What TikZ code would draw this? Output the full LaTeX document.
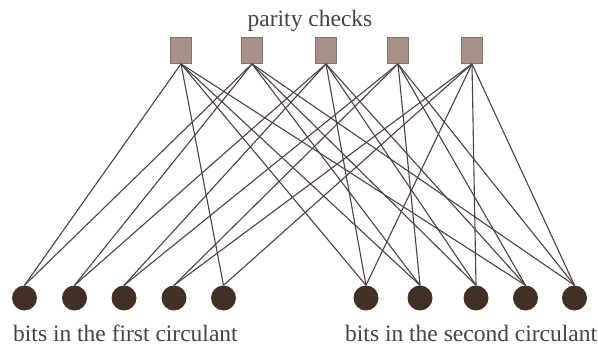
\documentclass[tikz,border=0pt]{standalone}
\usepackage{fontspec}
\setmainfont{Liberation Serif}
\definecolor{checkfill}{RGB}{168,144,136}
\definecolor{checkdraw}{RGB}{138,114,104}
\definecolor{bitfill}{RGB}{64,48,38}
\definecolor{edgecol}{RGB}{78,66,58}
\definecolor{labelcol}{RGB}{74,66,66}
\tikzset{
  check/.style={rectangle,fill=checkfill,draw=checkdraw,line width=0.8pt,
    minimum width=21pt,minimum height=26pt,inner sep=0pt},
  bit/.style={circle,fill=bitfill,minimum size=25pt,inner sep=0pt},
  edge/.style={draw=edgecol,line width=1.1pt},
  lbl/.style={text=labelcol,font=\fontsize{23.5}{28}\selectfont,inner sep=0pt}
}

\begin{document}
\begin{tikzpicture}[x=1pt,y=-1pt]
	\useasboundingbox (0,0) rectangle (598,345);
	% check nodes
	\foreach \i/\x in {1/181,2/252,3/326,4/398,5/472}
	\node[check] (c\i) at (\x,50.5) {};
	% bits of the two circulants
	\foreach \i/\x in {1/24.5,2/74.5,3/124,4/174,5/223.5}
	\node[bit] (u\i) at (\x,298) {};
	\foreach \i/\x in {1/366,2/420,3/476,4/525.5,5/574.5}
	\node[bit] (v\i) at (\x,298) {};
	% edges
	\foreach \c/\b in {1/1,1/5,2/1,2/2,3/2,3/3,4/3,4/4,5/4,5/5}
	\draw[edge] (c\c.south) -- (u\b.north);
	\foreach \c/\b in {1/1,1/2,1/4,2/2,2/3,2/5,3/3,3/4,3/1,4/4,4/5,4/2,5/5,5/1,5/3}
	\draw[edge] (c\c.south) -- (v\b.north);
	% labels
	\node[lbl,anchor=base] (top) at (310,27) {parity checks};
	\node[lbl,anchor=base west] (first) at (13,341) {bits in the first circulant};
	\node[lbl,anchor=base west] (second) at (345,341) {bits in the second circulant};
\end{tikzpicture}
\end{document}
